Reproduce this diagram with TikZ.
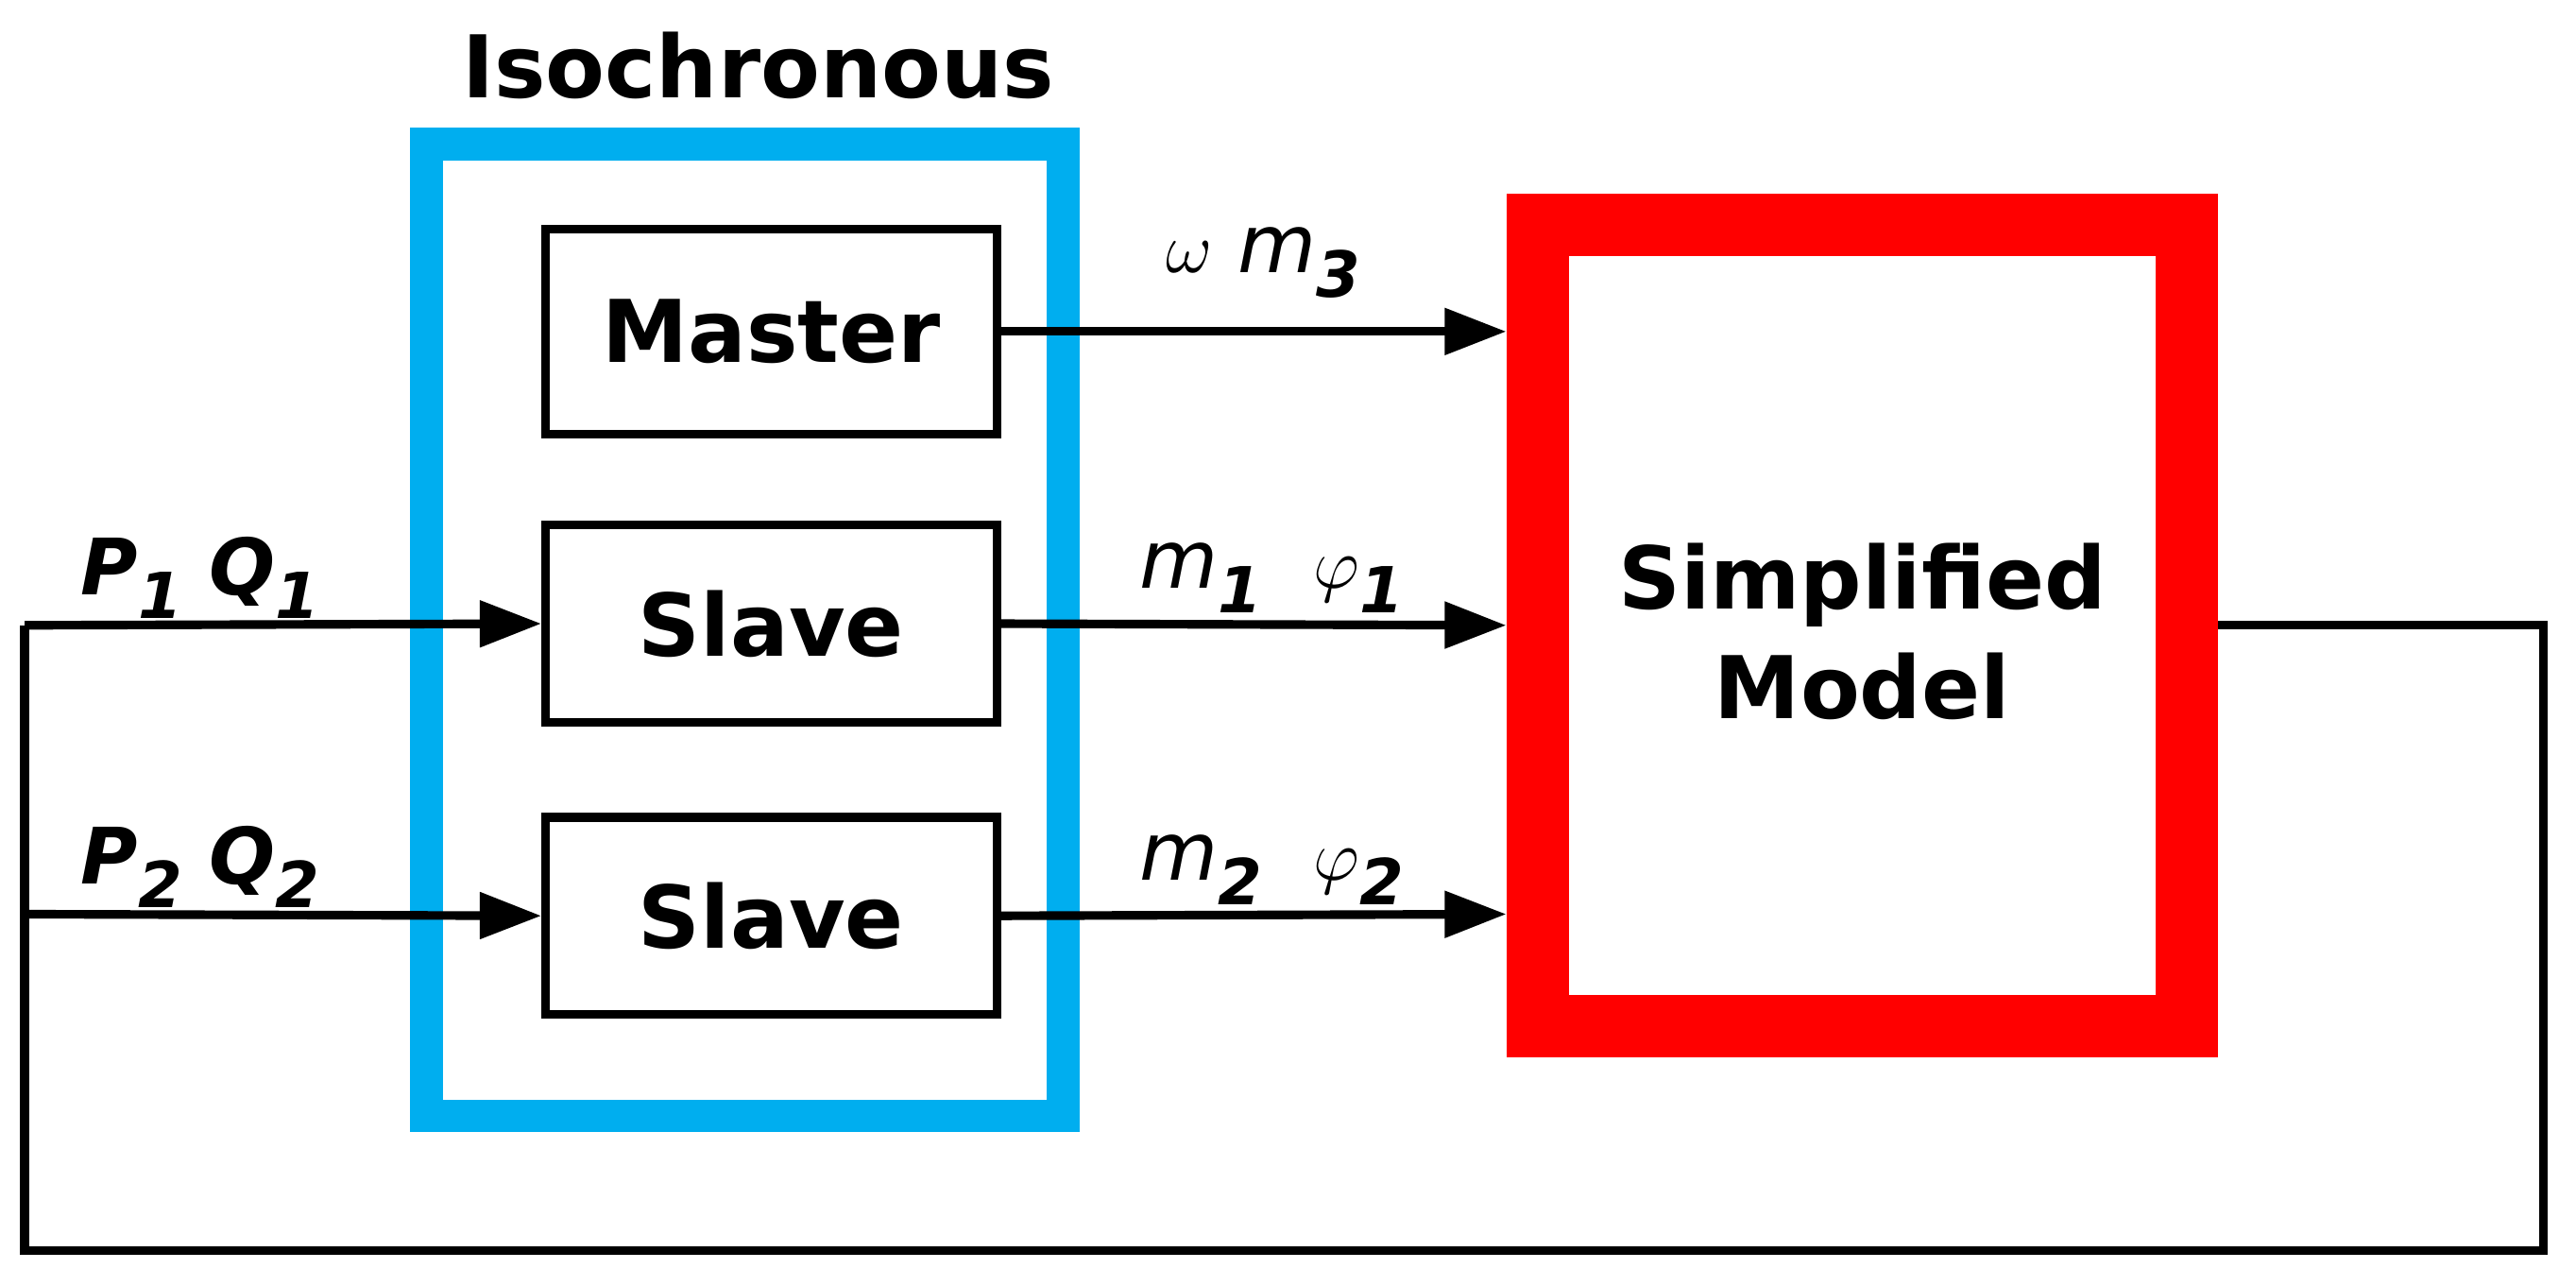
\documentclass[tikz,border=0pt]{standalone}
\usepackage{fontspec}
\setmainfont{DejaVu Sans}
\usetikzlibrary{arrows.meta}
\begin{document}
\begin{tikzpicture}[x=0.02cm,y=-0.02cm,
  blk/.style={draw=black,line width=3pt,minimum width=5.5cm,minimum height=2.4cm,font=\fontsize{30}{34}\selectfont\bfseries},
  ln/.style={line width=3pt},
  arr/.style={ln,-{Triangle[length=0.75cm,width=0.55cm]}},
  lab/.style={font=\fontsize{28}{32}\selectfont\itshape}]
\useasboundingbox (0,0) rectangle (1570,783);
\draw[line width=0.4cm,draw={rgb,255:red,0;green,174;blue,239}] (260,88) rectangle (648,680);
\node[font=\fontsize{30}{34}\selectfont\bfseries] (iso) at (462,40) {Isochronous};
\draw[line width=0.76cm,red] (937,137) rectangle (1333,625);
\node[inner sep=0,minimum width=8.7cm,minimum height=10.5cm] (sm) at (1135,381) {};
\node[align=center,font=\fontsize{30}{38}\selectfont\bfseries] (smt) at (1135,385) {Simplified\\Model};
\node[blk,minimum height=2.5cm] (ma) at (470,202) {Master};
\node[blk] (s1) at (470,380) {Slave};
\node[blk] (s2) at (470,558) {Slave};
\coordinate (ti1) at (918,202);
\coordinate (ti2) at (918,381);
\coordinate (ti3) at (918,557);
\draw[arr] (ma.east) -- (ti1);
\draw[arr] (s1.east) -- (ti2);
\draw[arr] (s2.east) -- (ti3);
\coordinate (o) at (1352,381);
\coordinate (c1) at (1550,381);
\coordinate (c2) at (1550,762);
\coordinate (c3) at (15,762);
\coordinate (c4) at (15,381);
\coordinate (c5) at (15,557);
\draw[ln] (o) -- (c1) -- (c2) -- (c3) -- (c4);
\draw[arr] (c4) -- (s1.west);
\draw[arr] (c5) -- (s2.west);
\node[lab] (l1) at (770,160) {$\omega$ m\raisebox{-0.3em}{\bfseries\fontsize{22}{26}\selectfont 3}};
\node[lab] (l2) at (775,352) {m\raisebox{-0.3em}{\bfseries\fontsize{22}{26}\selectfont 1} \ $\varphi$\raisebox{-0.3em}{\bfseries\fontsize{22}{26}\selectfont 1}};
\node[lab] (l3) at (775,530) {m\raisebox{-0.3em}{\bfseries\fontsize{22}{26}\selectfont 2} \ $\varphi$\raisebox{-0.3em}{\bfseries\fontsize{22}{26}\selectfont 2}};
\node[lab,font=\fontsize{27}{30}\selectfont\bfseries\itshape] (p1) at (122,352) {P\raisebox{-0.3em}{\fontsize{22}{26}\selectfont 1} Q\raisebox{-0.3em}{\fontsize{22}{26}\selectfont 1}};
\node[lab,font=\fontsize{27}{30}\selectfont\bfseries\itshape] (p2) at (122,528) {P\raisebox{-0.3em}{\fontsize{22}{26}\selectfont 2} Q\raisebox{-0.3em}{\fontsize{22}{26}\selectfont 2}};
\end{tikzpicture}
\end{document}
